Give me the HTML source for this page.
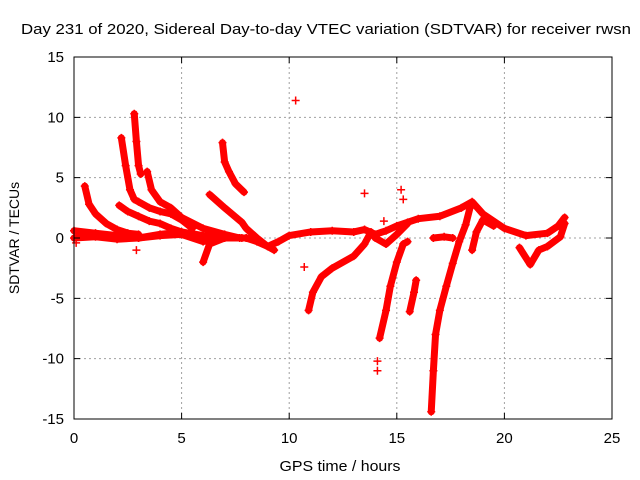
<!DOCTYPE html>
<html><head><meta charset="utf-8"><style>
body{margin:0;background:#fff}
svg{display:block;font-family:"Liberation Sans",sans-serif}
</style></head><body>
<svg id="chart" width="640" height="480" viewBox="0 0 640 480">
<rect width="640" height="480" fill="#fff"/>
<text x="326" y="34" font-size="15" text-anchor="middle" textLength="610" lengthAdjust="spacingAndGlyphs">Day 231 of 2020, Sidereal Day-to-day VTEC variation (SDTVAR) for receiver rwsn</text>
<g id="grid"></g>
<g id="series"></g>
<rect x="74" y="57" width="538" height="362" fill="none" stroke="#000" stroke-width="1"/>
<g id="ticks"></g>
<text x="340" y="471" font-size="15" text-anchor="middle" textLength="121" lengthAdjust="spacingAndGlyphs">GPS time / hours</text>
<text x="0" y="0" font-size="14" text-anchor="middle" transform="translate(19,238) rotate(-90)">SDTVAR / TECUs</text>
</svg>
<script>
const xTicks=[0,5,10,15,20,25];
const yTicks=[-15,-10,-5,0,5,10,15];
const trackBase=[[0,0.6],[1,0.4],[2,0.2],[3,0],[4,0.3],[5,0.5],[6,0.2],[7,0],[8,0],[8.5,-0.3],[9,-0.7],[9.5,-0.3],[10,0.2],[11,0.5],[12,0.6],[13,0.5],[13.5,0.7],[14,0.3],[14.5,0.6],[15,1],[15.5,1.3],[16,1.6],[17,1.8],[18,2.5],[18.5,3],[19,2],[20,0.8],[21,0.2],[22,0.4],[22.5,1.0],[22.8,1.7]];
const trackLow=[[0,0],[1,0.1],[2,-0.1],[3,0],[4,0.2],[5,0.3],[6,-0.3],[7,0.1],[7.8,0]];
const trackA=[[0.5,4.3],[0.7,2.8],[1,2],[1.5,1.2],[2,0.7],[2.5,0.4],[3,0.3]];
const trackB=[[2.2,8.3],[2.4,6],[2.6,4],[2.8,3.2],[3,3],[3.5,2.5],[4,2.2],[4.5,2],[5,1.5],[5.5,0.8]];
const trackC=[[2.8,10.3],[2.9,8],[3,6],[3.1,5.3]];
const trackD=[[3.4,5.5],[3.6,4],[4,3],[4.5,2.5],[5,1.7],[6,0.8],[7,0.3],[7.7,0]];
const trackE=[[2.1,2.7],[2.5,2.2],[3,1.8],[3.5,1.4],[4,1.2],[4.5,0.8],[5,0.5]];
const trackF=[[6.9,7.9],[7,6.3],[7.2,5.5],[7.5,4.5],[7.9,3.8]];
const trackG=[[6.3,3.6],[7,2.5],[7.8,1.3],[8,0.8],[8.5,0],[9,-0.7],[9.3,-1]];
const trackH=[[6,-2],[6.3,-0.5],[7,0],[8,0]];
const trackI=[[10.9,-6],[11.1,-4.5],[11.5,-3.2],[12,-2.5],[13,-1.5],[13.5,-0.5],[13.8,0.5],[14,0],[14.5,-0.5],[15,0.3],[15.5,1.2]];
const trackJ=[[14.2,-8.3],[14.5,-6],[14.7,-4],[15,-2],[15.3,-0.5],[15.5,-0.3]];
const trackK=[[15.6,-6.1],[15.8,-4.5],[15.9,-3.5]];
const trackL=[[16.6,-14.4],[16.7,-11],[16.8,-8],[17,-6],[17.3,-4],[17.6,-2.1],[17.9,-0.3],[18.2,1.1],[18.4,2.5]];
const trackM=[[18.5,-1],[18.7,0.5],[19,1.5],[19.5,1]];
const trackN=[[20.7,-0.8],[21.2,-2.2],[21.6,-1],[22,-0.7],[22.6,0.1],[22.8,1.2]];
const trackO=[[16.7,0],[17.2,0.1],[17.6,0]];
const spikes=[[10.3,11.4],[10.7,-2.4],[13.5,3.7],[15.2,4],[15.3,3.2],[14.1,-10.2],[14.1,-11],[2.9,-1],[0.1,-0.4],[14.4,1.4]];
const tracks=[trackBase,trackLow,trackA,trackB,trackC,trackD,trackE,trackF,trackG,trackH,trackI,trackJ,trackK,trackL,trackM,trackN,trackO];
const X=t=>74+t*538/25, Y=v=>238-v*362/30;
const NS="http://www.w3.org/2000/svg";
const grid=document.getElementById('grid'),ticks=document.getElementById('ticks'),ser=document.getElementById('series');
function mk(tag,attrs,parent){const e=document.createElementNS(NS,tag);for(const k in attrs)e.setAttribute(k,attrs[k]);parent.appendChild(e);return e;}
xTicks.forEach(t=>{
 if(t>0&&t<25){const g=mk('line',{x1:X(t),x2:X(t),y1:57,y2:419,stroke:'#a0a0a0','stroke-dasharray':'2,3'},grid);
 
 }
 const tk=mk('path',{d:`M${X(t)},419v-6M${X(t)},57v6`,stroke:'#000'},ticks);
 
 
 const l=mk('text',{x:X(t),y:443,'font-size':15,'text-anchor':'middle'},ticks);l.textContent=t;
 
 
});
yTicks.forEach(v=>{
 if(v>-15&&v<15){const g=mk('line',{x1:74,x2:612,y1:Y(v),y2:Y(v),stroke:'#a0a0a0','stroke-dasharray':'2,3'},grid);
 
 }
 const tk=mk('path',{d:`M74,${Y(v)}h6M612,${Y(v)}h-6`,stroke:'#000'},ticks);
 
 
 const l=mk('text',{x:64,y:Y(v)+5,'font-size':15,'text-anchor':'end'},ticks);l.textContent=v;
 
 
});
function plus(t,v){const p=mk('path',{d:`M${X(t)-4},${Y(v)}h8M${X(t)},${Y(v)-4}v8`,stroke:'#f00','stroke-width':1.5},ser);
 
 }
tracks.forEach(tr=>{
 const pl=mk('polyline',{points:tr.map(p=>X(p[0])+','+Y(p[1])).join(' '),fill:'none',stroke:'#f00','stroke-width':7,'stroke-linejoin':'round','stroke-linecap':'round'},ser);
 
 
 tr.forEach(p=>plus(p[0],p[1]));
});
spikes.forEach(p=>plus(p[0],p[1]));
</script>
</body></html>
